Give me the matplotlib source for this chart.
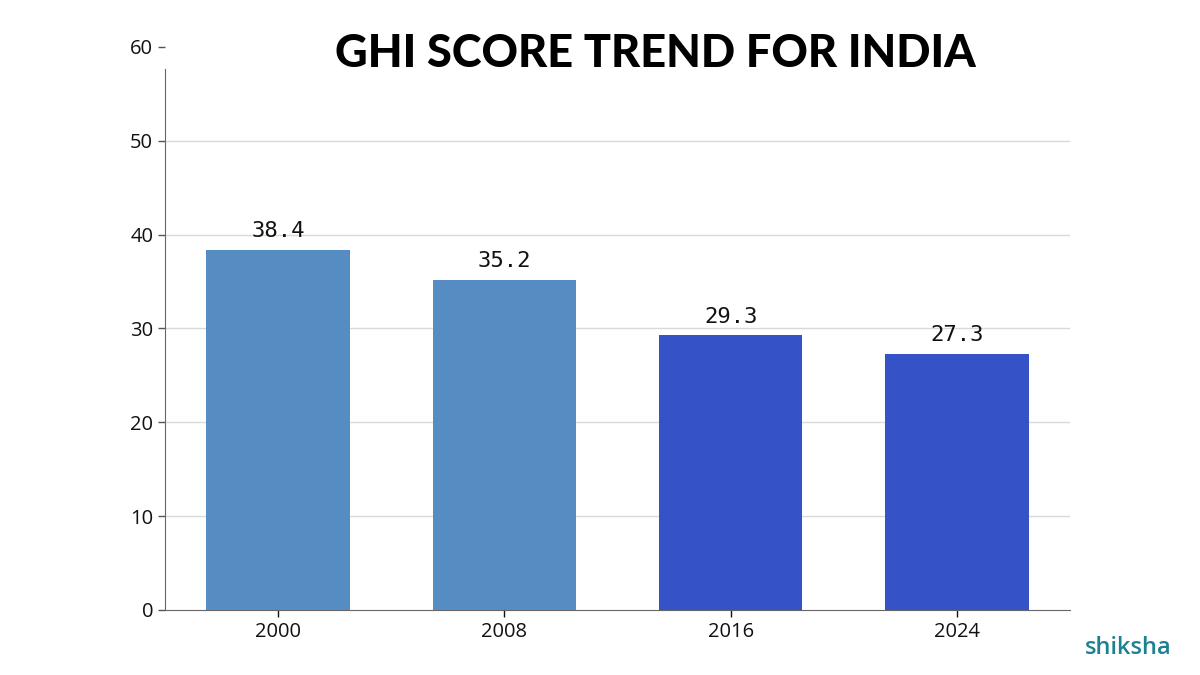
import matplotlib.pyplot as plt

years = ['2000', '2008', '2016', '2024']
scores = [38.4, 35.2, 29.3, 27.3]
bar_colors = ['#558cc1', '#558cc1', '#3652c7', '#3652c7']
yticks = [0, 10, 20, 30, 40, 50, 60]

plt.rcParams['font.family'] = ['Open Sans', 'DejaVu Sans']

fig = plt.figure(figsize=(12, 6.75), dpi=100)
ax = fig.add_axes([0.1375, 0.0963, 0.7542, 0.8341])

x = range(len(years))
bars = ax.bar(x, scores, width=0.635, color=bar_colors, zorder=3)
for rect, val in zip(bars, scores):
    ax.text(rect.get_x() + rect.get_width() / 2, val + 0.9, f'{val}',
            ha='center', va='bottom', fontsize=16, color='#111111',
            family=['DejaVu Sans Mono'], zorder=4)

ax.set_xlim(-0.5, 3.5)
ax.set_ylim(0, 60)
ax.set_yticks(yticks)
ax.set_xticks(list(x))
ax.set_xticklabels(years)
ax.tick_params(axis='both', labelsize=14.5, length=5, width=1)
ax.tick_params(axis='y', colors='#555555', labelcolor='#111111')
ax.tick_params(axis='x', colors='#111111', labelcolor='#111111')

for gy in yticks[1:-1]:
    ax.axhline(gy, color='#d9d9d9', linewidth=1, zorder=1)

for s in ['top', 'right']:
    ax.spines[s].set_visible(False)
ax.spines['left'].set_color('#666666')
ax.spines['left'].set_bounds(0, 57.7)
ax.spines['bottom'].set_color('#666666')

fig.text(0.546, 0.92, 'GHI SCORE TREND FOR INDIA', fontsize=32.5,
         fontweight='black', family=['Lato', 'DejaVu Sans'],
         ha='center', va='center', color='black')

fig.text(0.94, 0.04, 'shiksha', fontsize=17, fontweight='semibold',
         color='#1c8291', ha='center', va='center',
         family=['Open Sans'])

plt.savefig('out.png')
